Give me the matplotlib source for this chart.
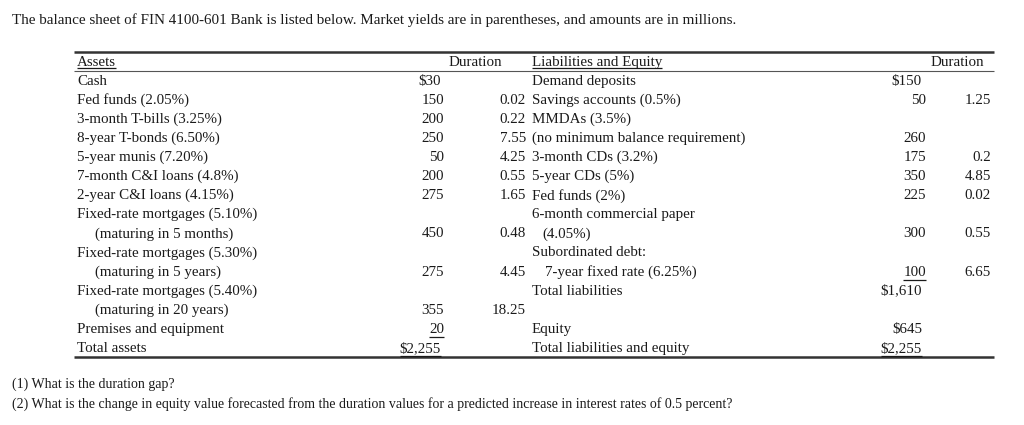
import matplotlib
matplotlib.use("Agg")
import matplotlib.pyplot as plt

plt.rcParams['font.family'] = ['Liberation Serif', 'DejaVu Serif']

title = ("The balance sheet of FIN 4100-601 Bank is listed below. "
         "Market yields are in parentheses, and amounts are in millions.")
questions = ["(1) What is the duration gap?",
             "(2) What is the change in equity value forecasted from the duration values "
             "for a predicted increase in interest rates of 0.5 percent?"]

# asset side
asset_labels = ["Cash", "Fed funds (2.05%)", "3-month T-bills (3.25%)", "8-year T-bonds (6.50%)",
                "5-year munis (7.20%)", "7-month C&I loans (4.8%)", "2-year C&I loans (4.15%)",
                "Fixed-rate mortgages (5.10%)", "(maturing in 5 months)",
                "Fixed-rate mortgages (5.30%)", "(maturing in 5 years)",
                "Fixed-rate mortgages (5.40%)", "(maturing in 20 years)",
                "Premises and equipment", "Total assets"]
asset_indent = [0, 0, 0, 0, 0, 0, 0, 0, 1, 0, 1, 0, 1, 0, 0]
asset_amounts = ["$30", "150", "200", "250", "50", "200", "275", "", "450", "", "275", "",
                 "355", "20", "$2,255"]
asset_durations = ["", "0.02", "0.22", "7.55", "4.25", "0.55", "1.65", "", "0.48", "",
                   "4.45", "", "18.25", "", ""]

# liabilities side
liab_labels = ["Demand deposits", "Savings accounts (0.5%)", "MMDAs (3.5%)",
               "(no minimum balance requirement)", "3-month CDs (3.2%)", "5-year CDs (5%)",
               "Fed funds (2%)", "6-month commercial paper", "(4.05%)", "Subordinated debt:",
               "7-year fixed rate (6.25%)", "Total liabilities", "", "Equity",
               "Total liabilities and equity"]
liab_indent = [0, 0, 0, 0, 0, 0, 0, 0, 10, 0, 13, 0, 0, 0, 0]
liab_amounts = ["$150", "50", "", "260", "175", "350", "225", "", "300", "", "100",
                "$1,610", "", "$645", "$2,255"]
liab_durations = ["", "1.25", "", "", "0.2", "4.85", "0.02", "", "0.55", "", "6.65",
                  "", "", "", ""]

underlined_assets = [13, 14]
underlined_liabs = [10, 14]

W, H = 1024, 425
fig = plt.figure(figsize=(W / 100, H / 100), dpi=100)
ax = fig.add_axes([0, 0, 1, 1])
ax.set_xlim(0, W)
ax.set_ylim(H, 0)
ax.axis("off")

fs = 10.8
ink = "#1a1a1a"

ax.text(12, 20, title, fontsize=10.9, va="center", ha="left", color=ink)
for i, q in enumerate(questions):
    ax.text(12, 384 + i * 20, q, fontsize=10.0, va="center", ha="left", color=ink)

# rules
ax.plot([74, 994], [52, 52], color="#333333", lw=1.8, solid_capstyle="butt")
ax.plot([74, 994], [71, 71], color="#555555", lw=0.8, solid_capstyle="butt")
ax.plot([74, 994], [357, 357], color="#333333", lw=1.8, solid_capstyle="butt")

# headers
h_y = 62
hdrs = []
hdrs.append(ax.text(77, h_y, "Assets", fontsize=fs, va="center", color=ink))
ax.text(475, h_y, "Duration", fontsize=fs, va="center", ha="center", color=ink)
hdrs.append(ax.text(532, h_y, "Liabilities and Equity", fontsize=fs, va="center", color=ink))
ax.text(957, h_y, "Duration", fontsize=fs, va="center", ha="center", color=ink)

row0, step = 81, 19.1
under = []
for i in range(len(asset_labels)):
    y = row0 + i * step
    ax.text(77 + 18 * asset_indent[i], y, asset_labels[i], fontsize=fs, va="center", color=ink)
    a = ax.text(444 if not asset_amounts[i].startswith("$") else 441, y, asset_amounts[i],
                fontsize=fs, va="center", ha="right", color=ink)
    ax.text(526, y, asset_durations[i], fontsize=fs, va="center", ha="right", color=ink)
    if i in underlined_assets:
        under.append(a)
    ax.text(532 + liab_indent[i], y, liab_labels[i], fontsize=fs, va="center", color=ink)
    l = ax.text(926 if not liab_amounts[i].startswith("$") else 922, y, liab_amounts[i],
                fontsize=fs, va="center", ha="right", color=ink)
    ax.text(991, y, liab_durations[i], fontsize=fs, va="center", ha="right", color=ink)
    if i in underlined_liabs:
        under.append(l)

# underline headers and subtotal figures
fig.canvas.draw()
r = fig.canvas.get_renderer()
inv = ax.transData.inverted()
for t, dy in [(h, 5.5) for h in hdrs] + [(u, 8) for u in under]:
    bb = t.get_window_extent(r)
    (x0, _), (x1, _) = inv.transform([[bb.x0, bb.y0], [bb.x1, bb.y1]])
    y = t.get_position()[1] + dy
    ax.plot([x0, x1], [y, y], color=ink, lw=0.9, solid_capstyle="butt")

fig.savefig("out.png", dpi=100)
